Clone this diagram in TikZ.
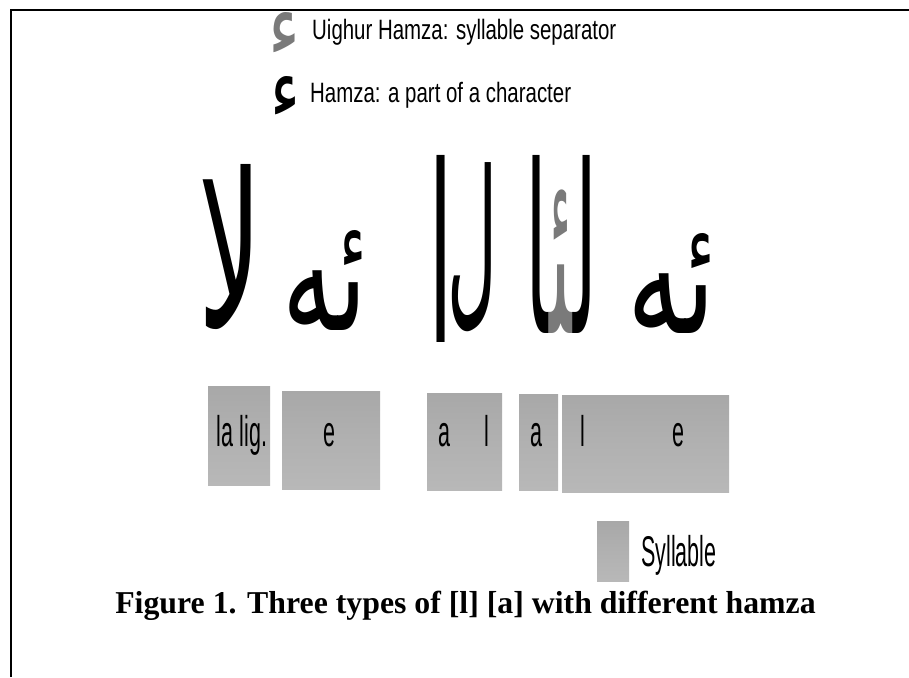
\documentclass[tikz,border=0pt]{standalone}
\usepackage{fontspec}
\TeXXeTstate=1
\newfontfamily\arabicfont[Script=Arabic]{DejaVu Sans}
\newfontfamily\legfont[FakeStretch=0.73]{Liberation Sans}
\newfontfamily\boxfont[FakeStretch=0.5]{Liberation Sans}
\newfontfamily\capfont{Liberation Serif}
\definecolor{sylgray}{HTML}{A8A8A8}
\definecolor{sylgraylt}{HTML}{B8B8B8}
\definecolor{hamzagray}{HTML}{7A7A7A}
\tikzset{
  arab/.style={inner sep=0pt, outer sep=0pt},
  sylbox/.style={draw=none, inner sep=0pt, rectangle, top color=sylgray, bottom color=sylgraylt, middle color=sylgray!90!white},
  boxlbl/.style={inner sep=0pt, anchor=base, font={\boxfont\fontsize{43}{45}\selectfont}},
  leglbl/.style={inner sep=0pt, anchor=base west, font={\legfont\fontsize{28}{30}\selectfont}},
}
\begin{document}
\begin{tikzpicture}[x=1pt,y=-1pt]
\useasboundingbox (0,0) rectangle (909,677);
% frame
\draw[line width=2pt] (11,677) -- (11,10) -- (909,10);

% legend
\node[arab, text=hamzagray] (ic1) at (285,34) {\resizebox*{32pt}{44pt}{\arabicfont ء}};
\node[leglbl] (lg1) at (312,39.5) {Uighur Hamza: syllable separator};
\node[arab] (ic2) at (285,97) {\resizebox*{30pt}{42pt}{\arabicfont ء}};
\node[leglbl] (lg2) at (310,102) {Hamza: a part of a character};

% Arabic forms
\node[arab] (lamalef) at (230,247.5) {\resizebox*{64pt}{165pt}{\arabicfont\beginR لا\endR}};
\node[arab] (e1) at (325,280) {\resizebox*{84pt}{100pt}{\arabicfont\beginR ئە\endR}};
\node[arab] (alif) at (440.5,248.5) {\resizebox*{25pt}{187pt}{\arabicfont\beginR ا\endR}};
\node[arab] (lam) at (472,247.5) {\resizebox*{50pt}{169pt}{\arabicfont\beginR ل\endR}};
\node[arab] (lhamzaa) at (561,244) {\resizebox*{72pt}{178pt}{\arabicfont ^^^^200dا{\color{hamzagray}^^^^200dئ^^^^200d}ل^^^^200d}};
\node[arab] (e2) at (672,283) {\resizebox*{88pt}{100pt}{\arabicfont\beginR ئە\endR}};

% syllable boxes
\node[sylbox, minimum width=62pt, minimum height=99pt] (b1) at (239,435.5) {};
\node[sylbox, minimum width=98pt, minimum height=98pt] (b2) at (331,440) {};
\node[sylbox, minimum width=75pt, minimum height=97pt] (b3) at (464.5,441.5) {};
\node[sylbox, minimum width=39pt, minimum height=96pt] (b4) at (538.5,442) {};
\node[sylbox, minimum width=167pt, minimum height=97pt] (b5) at (645.5,443.5) {};

\node[boxlbl] (t1) at (242,446) {la lig.};
\node[boxlbl] (t2) at (329.5,446) {e};
\node[boxlbl] (t3a) at (444.5,446) {a};
\node[boxlbl] (t3l) at (486.5,446) {l};
\node[boxlbl] (t4a) at (536.5,446) {a};
\node[boxlbl] (t5l) at (583,446) {l};
\node[boxlbl] (t5e) at (678.5,446) {e};

% legend box
\node[sylbox, minimum width=32pt, minimum height=60pt] (lb) at (613,551) {};
\node[boxlbl, anchor=base west] (syl) at (641,566) {Syllable};

% caption
\node[inner sep=0pt, anchor=base, font={\capfont\bfseries\fontsize{31.8}{34}\selectfont}] (cap) at (465.5,613) {Figure 1. Three types of [l] [a] with different hamza};
\end{tikzpicture}
\end{document}
